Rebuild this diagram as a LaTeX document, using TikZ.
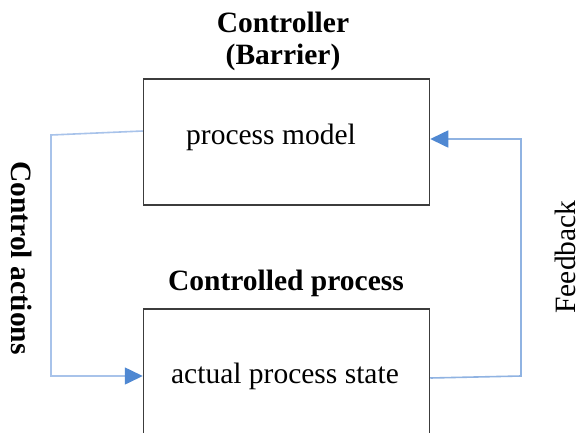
\documentclass[tikz,border=0pt]{standalone}
\usepackage{fontspec}
\setmainfont{Liberation Serif}
\usetikzlibrary{arrows.meta}
\definecolor{boxline}{HTML}{3C3C3C}
\definecolor{linkA}{HTML}{A8C3EA}
\definecolor{linkB}{HTML}{90B3E2}
\definecolor{tipblue}{HTML}{4F88D2}
\tikzset{
  block/.style={draw=boxline, line width=1.5pt, minimum width=286pt, inner sep=0pt},
  title/.style={font=\fontsize{29.5}{32}\selectfont\bfseries, inner sep=0pt},
  inner/.style={font=\fontsize{29.5}{32}\selectfont, inner sep=0pt},
  link/.style={line width=1.6pt, -{Triangle[length=18pt,width=17pt,fill=tipblue,color=tipblue]}},
}
\begin{document}
\begin{tikzpicture}[x=1pt,y=-1pt]
  \useasboundingbox (0,0) rectangle (581,432);
  \clip (0,0) rectangle (581,432);
  \fill[white] (0,0) rectangle (581,432);

  % controller block
  \node[block, minimum height=126pt] (ctl) at (286.5,142) {};
  \node[title] (ctlname) at (283,22) {Controller};
  \node[title] (ctlsub) at (283,57) {(Barrier)};
  \node[inner] (model) at (271,137) {process model};

  % controlled process block (runs past the lower edge)
  \node[block, minimum height=180pt] (proc) at (286.5,399) {};
  \node[title] (procname) at (286,283) {Controlled process};
  \node[inner] (state) at (285,376) {actual process state};

  % control actions: controller -> process
  \coordinate (caTop) at (51,135);
  \draw[link, color=linkA] ([yshift=6pt]ctl.west |- model) -- (caTop) -- (caTop |- state) -- (proc.west |- state);

  % feedback: process -> controller
  \coordinate (fbBot) at (521,376);
  \draw[link, color=linkB] ([yshift=-2pt]proc.east |- state) -- (fbBot) -- ([yshift=3pt]fbBot |- ctl.center) -- ([yshift=3pt]ctl.east);

  \node[title, rotate=-90] (ca) at (22,258) {Control actions};
  \node[inner, rotate=90] (fb) at (565,257) {Feedback};
\end{tikzpicture}
\end{document}
